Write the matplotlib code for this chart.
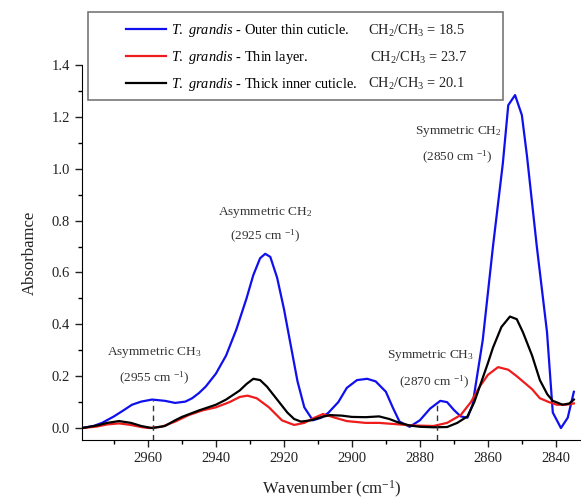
import numpy as np
import matplotlib
matplotlib.use("Agg")
import matplotlib.pyplot as plt
from matplotlib.patches import Rectangle

plt.rcParams['font.family'] = ['Liberation Serif', 'DejaVu Serif']
plt.rcParams['mathtext.fontset'] = 'custom'
plt.rcParams['mathtext.rm'] = 'Liberation Serif'
plt.rcParams['mathtext.it'] = 'Liberation Serif:italic'

# spectra (wavenumber in cm-1, absorbance)
wn_outer = [2979.4, 2976, 2973.5, 2970, 2967, 2964.7, 2962, 2958.8, 2955, 2952, 2949, 2947,
            2945, 2943, 2940, 2937, 2934, 2931, 2929, 2927, 2925.5, 2924, 2922, 2920, 2918,
            2916, 2914, 2911.5, 2909, 2907, 2904, 2901.5, 2898.5, 2895.5, 2893, 2890, 2888,
            2886, 2883, 2880, 2877, 2874, 2872, 2870, 2868, 2866, 2864.5, 2861.5, 2858.5,
            2855.6, 2854, 2852, 2850, 2848.5, 2845.6, 2842.6, 2840.9, 2838.5, 2836.5, 2834.7]
abs_outer = [0.0, 0.008, 0.02, 0.045, 0.07, 0.09, 0.102, 0.11, 0.105, 0.097, 0.102, 0.115,
             0.135, 0.16, 0.21, 0.28, 0.38, 0.5, 0.59, 0.655, 0.672, 0.66, 0.58, 0.46, 0.32,
             0.18, 0.08, 0.03, 0.04, 0.058, 0.1, 0.155, 0.185, 0.19, 0.18, 0.14, 0.08,
             0.025, 0.005, 0.03, 0.075, 0.105, 0.1, 0.07, 0.045, 0.04, 0.09, 0.34, 0.70,
             1.02, 1.245, 1.284, 1.207, 1.05, 0.70, 0.37, 0.06, 0.0, 0.04, 0.14]

wn_thin = [2979.4, 2975, 2972, 2968.5, 2965, 2962, 2959.7, 2956, 2952, 2948, 2944, 2940,
           2936, 2933, 2930.7, 2928, 2924.4, 2920.6, 2917, 2914, 2911, 2908.5, 2905, 2901.5,
           2896, 2892, 2887, 2882, 2876, 2872, 2868, 2865, 2862.4, 2860, 2857, 2854, 2851.5,
           2849.7, 2847, 2844.7, 2842, 2839.7, 2837, 2834.7]
abs_thin = [0.0, 0.006, 0.014, 0.018, 0.012, 0.004, 0.0, 0.005, 0.025, 0.05, 0.068, 0.08,
            0.1, 0.12, 0.125, 0.115, 0.08, 0.03, 0.012, 0.02, 0.04, 0.054, 0.04, 0.027,
            0.02, 0.02, 0.015, 0.01, 0.008, 0.02, 0.05, 0.1, 0.16, 0.205, 0.235, 0.225, 0.2,
            0.18, 0.15, 0.115, 0.1, 0.09, 0.09, 0.095]

wn_inner = [2979.4, 2975, 2972, 2968.5, 2965, 2962, 2958.8, 2955, 2952, 2950, 2945, 2940,
            2937, 2933, 2931, 2929, 2927, 2925, 2922, 2919, 2917, 2915, 2912, 2909, 2906.5,
            2903, 2900, 2896, 2892, 2889, 2886, 2883, 2880, 2876, 2872, 2869, 2866, 2864,
            2862.4, 2860, 2858.5, 2856, 2853.5, 2851.5, 2849.7, 2847, 2844.7, 2842.5, 2840.9,
            2838, 2836, 2834.7]
abs_inner = [0.0, 0.01, 0.02, 0.027, 0.02, 0.008, 0.0, 0.008, 0.03, 0.043, 0.068, 0.09,
             0.11, 0.145, 0.17, 0.19, 0.185, 0.16, 0.11, 0.06, 0.035, 0.025, 0.03, 0.042, 0.05,
             0.048, 0.043, 0.042, 0.045, 0.035, 0.02, 0.01, 0.005, 0.003, 0.004, 0.02, 0.045, 0.1,
             0.16, 0.25, 0.31, 0.39, 0.43, 0.42, 0.37, 0.28, 0.185, 0.13, 0.105,
             0.09, 0.095, 0.11]

series_labels = [r"$\mathit{T.\,\,grandis}$ - Outer thin cuticle.",
                 r"$\mathit{T.\,\,grandis}$ - Thin layer.",
                 r"$\mathit{T.\,\,grandis}$ - Thick inner cuticle."]
ratios = ["18.5", "23.7", "20.1"]

# band markers (position, height of dashed guide)
guide_wn = [2958.5, 2875]
guide_top = [0.11, 0.10]

xticks = [2960, 2940, 2920, 2900, 2880, 2860, 2840]
yticks = [0.0, 0.2, 0.4, 0.6, 0.8, 1.0, 1.2, 1.4]

fig = plt.figure(figsize=(5.81, 4.99), dpi=100)
W, H = 581, 499
ax = fig.add_axes([82 / W, 59 / H, (W - 82) / W, (440 - 65) / H])

l1, = ax.plot(wn_outer, abs_outer, color='#1010ee', lw=1.6)
l2, = ax.plot(wn_thin, abs_thin, color='#ee1c1c', lw=1.6)
l3, = ax.plot(wn_inner, abs_inner, color='black', lw=1.6)

ymin = -0.046
ax.set_xlim(2979.4, 2832.6)
ax.set_ylim(ymin, 1.4)
ax.vlines(guide_wn, ymin, guide_top, colors='#333333', linestyles=(0, (4, 3)), lw=1)

ax.spines['top'].set_visible(False)
ax.spines['right'].set_visible(False)
ax.set_xticks(xticks)
ax.set_xticks(np.arange(2840, 2980, 10), minor=True)
ax.set_yticks(yticks)
ax.set_yticks(np.arange(0, 1.45, 0.1), minor=True)
ax.set_yticklabels([f"{v:.1f}" for v in yticks])
ax.tick_params(which='major', direction='out', length=5, width=1, labelsize=10.5, colors='#222222')
ax.tick_params(which='minor', direction='out', length=3, width=1)
ax.set_xlabel("Wavenumber (cm$^{-1}$)", fontsize=12, color='#222222', labelpad=10)
ax.set_ylabel("Absorbamce", fontsize=12, color='#222222', labelpad=10)

ann = dict(ha='center', va='center', fontsize=9.6, color='#333333')
ax.text(2958.2, 0.29, "Asymmetric CH$_3$", **ann)
ax.text(2958.2, 0.19, "(2955 cm $^{-1}$)", **ann)
ax.text(2925.6, 0.833, "Asymmetric CH$_2$", **ann)
ax.text(2925.6, 0.737, "(2925 cm $^{-1}$)", **ann)
ax.text(2868.8, 1.145, "Symmetric CH$_2$", **ann)
ax.text(2869.0, 1.045, "(2850 cm $^{-1}$)", **ann)
ax.text(2877.0, 0.278, "Symmetric CH$_3$", **ann)
ax.text(2875.9, 0.174, "(2870 cm $^{-1}$)", **ann)

# legend box
fig.patches.append(Rectangle((88 / W, 1 - 100 / H), (503 - 88) / W, (100 - 12) / H,
                             transform=fig.transFigure, fill=False,
                             edgecolor='#777777', lw=1.2))
fig.legend([l1, l2, l3], series_labels, loc='upper left',
           bbox_to_anchor=(126 / W, 1 - 22 / H), frameon=False, fontsize=10.4,
           handlelength=2.8, handletextpad=0.3, labelspacing=0.7,
           borderpad=0, borderaxespad=0)
row_y = [31, 58, 84]
row_x = [368, 370, 368]
for rx, ry, r in zip(row_x, row_y, ratios):
    fig.text(rx / W, 1 - ry / H, f"CH$_2$/CH$_3$ = {r}", fontsize=10.4, va='center',
             color='#222222')

fig.savefig("out.png", dpi=100)
